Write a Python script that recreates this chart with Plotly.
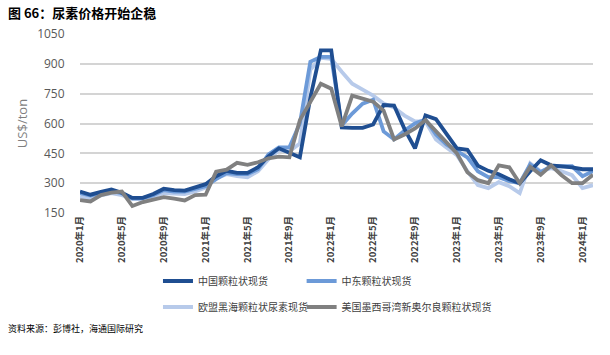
import plotly.graph_objects as go

months = [
    "2020年1月", "2020年2月", "2020年3月", "2020年4月", "2020年5月", "2020年6月",
    "2020年7月", "2020年8月", "2020年9月", "2020年10月", "2020年11月", "2020年12月",
    "2021年1月", "2021年2月", "2021年3月", "2021年4月", "2021年5月", "2021年6月",
    "2021年7月", "2021年8月", "2021年9月", "2021年10月", "2021年11月", "2021年12月",
    "2022年1月", "2022年2月", "2022年3月", "2022年4月", "2022年5月", "2022年6月",
    "2022年7月", "2022年8月", "2022年9月", "2022年10月", "2022年11月", "2022年12月",
    "2023年1月", "2023年2月", "2023年3月", "2023年4月", "2023年5月", "2023年6月",
    "2023年7月", "2023年8月", "2023年9月", "2023年10月", "2023年11月", "2023年12月",
    "2024年1月", "2024年2月",
]
tick_labels = ["2020年1月", "2020年5月", "2020年9月", "2021年1月", "2021年5月", "2021年9月",
               "2022年1月", "2022年5月", "2022年9月", "2023年1月", "2023年5月", "2023年9月",
               "2024年1月"]

china = [258, 242, 256, 268, 252, 226, 226, 246, 272, 265, 263, 280, 295, 335, 362, 352, 352,
         380, 435, 475, 455, 430, 730, 968, 968, 580, 578, 578, 595, 693, 690, 572, 475, 640,
         622, 550, 475, 468, 388, 362, 345, 320, 300, 360, 415, 390, 385, 380, 370, 370]
mideast = [250, 238, 250, 262, 248, 222, 225, 240, 265, 258, 258, 272, 285, 320, 350, 345, 345,
           370, 445, 480, 480, 600, 910, 935, 935, 590, 650, 700, 720, 560, 520, 565, 600, 620,
           545, 495, 465, 430, 360, 330, 330, 310, 300, 395, 355, 385, 385, 385, 335, 360]
eu_blacksea = [232, 222, 238, 250, 240, 222, 218, 232, 250, 248, 245, 258, 278, 325, 345, 335, 330,
               360, 420, 465, 460, 500, 870, 930, 925, 860, 800, 770, 740, 700, 680, 640, 610, 610,
               520, 480, 440, 360, 290, 275, 305, 285, 250, 400, 360, 375, 360, 340, 275, 290]
us_nola = [215, 208, 240, 252, 258, 185, 205, 218, 230, 222, 213, 240, 242, 358, 368, 402, 392,
           405, 425, 433, 430, 617, 710, 800, 775, 585, 740, 725, 710, 665, 520, 545, 575, 617,
           560, 500, 450, 355, 315, 300, 390, 380, 300, 382, 342, 390, 340, 300, 300, 342]

series_names = ["中国颗粒状现货", "中东颗粒状现货", "欧盟黑海颗粒状尿素现货", "美国墨西哥湾新奥尔良颗粒状现货"]
colors = ["#1F4E91", "#6C9AD8", "#B7CAEA", "#808080"]

FONT = "Noto Sans CJK SC, Noto Sans, sans-serif"

fig = go.Figure()
# drawing order: lighter lines underneath, grey on top; one legend per slot
draw = [
    (2, eu_blacksea, "legend3"),
    (1, mideast, "legend2"),
    (0, china, "legend"),
    (3, us_nola, "legend4"),
]
for idx, vals, lg in draw:
    fig.add_trace(go.Scatter(
        x=months, y=vals, mode="lines", name=series_names[idx],
        line=dict(color=colors[idx], width=3.8),
        legend=lg,
    ))

col_x = [0.152, 0.432]
row_y = [-0.38, -0.525]


def leg(x, y):
    return dict(orientation="h", x=x, y=y, xanchor="left", yanchor="middle",
                font=dict(size=10, color="#404040", family=FONT),
                bgcolor="rgba(0,0,0,0)")


fig.update_layout(
    width=610, height=355,
    margin=dict(l=80, r=17, t=34, b=142),
    paper_bgcolor="white", plot_bgcolor="white",
    font=dict(family=FONT, color="#404040"),
    showlegend=True,
    legend=leg(col_x[0], row_y[0]),
    legend2=leg(col_x[1], row_y[0]),
    legend3=leg(col_x[0], row_y[1]),
    legend4=leg(col_x[1], row_y[1]),
    xaxis=dict(
        type="category", range=[0, 49], tickmode="array",
        tickvals=tick_labels, ticktext=["<b>" + t + "</b>" for t in tick_labels], tickangle=-90,
        tickfont=dict(size=9.5, color="#404040", family=FONT),
        showgrid=False, showline=False, zeroline=False, ticks="",
    ),
    yaxis=dict(
        range=[150, 1050], tick0=150, dtick=150,
        tickfont=dict(size=12, color="#595959", family="Open Sans, sans-serif"),
        gridcolor="#D4D4D4", gridwidth=1.6, zeroline=False, showline=False,
        ticks="outside", ticklen=12, tickcolor="rgba(0,0,0,0)",
        title=dict(text="US$/ton", font=dict(size=13, color="#7F7F7F", family="Open Sans, sans-serif"),
                   standoff=6),
    ),
    annotations=[
        dict(text="<b>图 66：尿素价格开始企稳</b>", xref="paper", yref="paper",
             x=-0.144, y=1.12, xanchor="left", yanchor="middle", showarrow=False,
             font=dict(size=13, color="#000000", family=FONT)),
        dict(text="资料来源：彭博社，海通国际研究", xref="paper", yref="paper",
             x=-0.144, y=-0.645, xanchor="left", yanchor="middle", showarrow=False,
             font=dict(size=9, color="#000000", family=FONT)),
    ],
)

fig.write_html("out.html", config={"displayModeBar": False},
               post_script="document.body.style.margin='0';document.body.style.overflow='hidden';")
